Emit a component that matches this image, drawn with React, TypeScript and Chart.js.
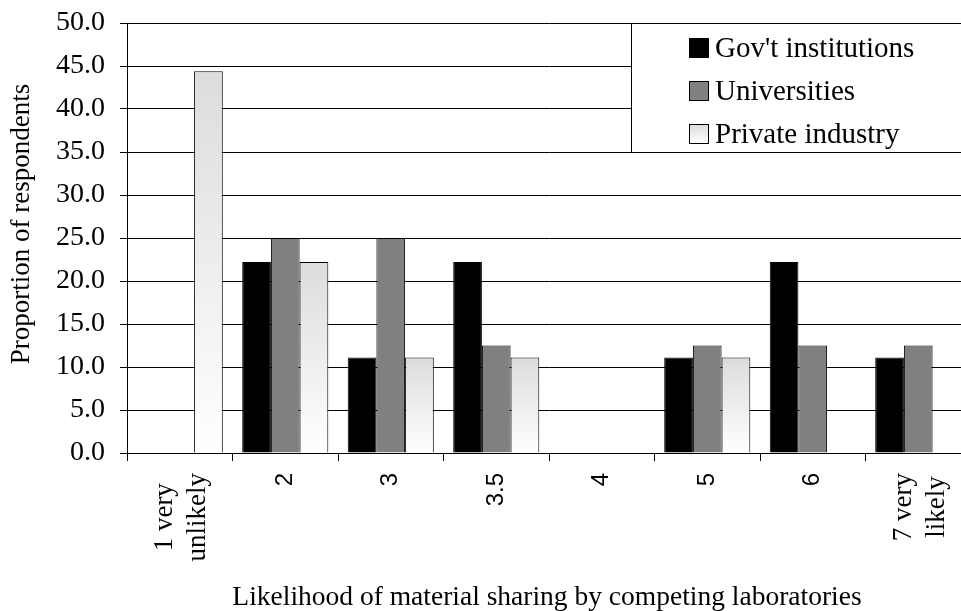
import React, { useEffect, useRef } from "react";
import { Chart, registerables } from "chart.js";

Chart.register(...registerables);

// Likert categories (multi-line labels are arrays of lines)
const categories: string[][] = [
  ["1 very", "unlikely"],
  ["2"],
  ["3"],
  ["3.5"],
  ["4"],
  ["5"],
  ["6"],
  ["7 very", "likely"],
];

// Proportion of respondents (%) per category
const govInstitutions = [0, 22.2, 11.1, 22.2, 0, 11.1, 22.2, 11.1];
const universities = [0, 25.0, 25.0, 12.5, 0, 12.5, 12.5, 12.5];
const privateIndustry = [44.4, 22.2, 11.1, 11.1, 0, 11.1, 0, 0];

const seriesNames = ["Gov't institutions", "Universities", "Private industry"];

const yMin = 0;
const yMax = 50;
const yStep = 5;

const xTitle = "Likelihood of material sharing by competing laboratories";
const yTitle = "Proportion of respondents";

const SERIF = "'Liberation Serif', 'Times New Roman', serif";
const SANS = "'Liberation Sans', Arial, sans-serif";

const GRAD_TOP = "#dcdcdc";
const GRAD_BOTTOM = "#ffffff";

// Vertical light-grey-to-white fill, one gradient per bar
const privateFill = (ctx: any) => {
  const chart = ctx.chart;
  const y = chart.scales && chart.scales.y;
  if (!y || ctx.type !== "data") return "#eeeeee";
  const v = ctx.raw as number;
  const top = y.getPixelForValue(v);
  const bottom = y.getPixelForValue(0);
  if (!(bottom > top)) return "#eeeeee";
  const g = chart.ctx.createLinearGradient(0, top, 0, bottom);
  g.addColorStop(0, GRAD_TOP);
  g.addColorStop(1, GRAD_BOTTOM);
  return g;
};

// Draws rotated category labels, axis titles and the boxed legend
const annotations = {
  id: "annotations",
  afterDraw(chart: any) {
    const { ctx, chartArea } = chart;
    const xs = chart.scales.x;
    const labels = chart.data.labels as string[][];

    ctx.save();
    ctx.fillStyle = "#000";

    // category labels, reading bottom-to-top, starting just below the axis
    const labelStart = chartArea.bottom + 20;
    labels.forEach((lines, i) => {
      const cx = xs.getPixelForValue(i);
      const multi = lines.length > 1;
      ctx.font = multi ? `27px ${SERIF}` : `24px ${SANS}`;
      const widths = lines.map((l) => ctx.measureText(l).width);
      const maxW = Math.max(...widths);
      const lh = 33;
      lines.forEach((line, j) => {
        const off = (j - (lines.length - 1) / 2) * lh;
        ctx.save();
        ctx.translate(cx + off + (multi ? 2 : 0), labelStart + maxW / 2);
        ctx.rotate(-Math.PI / 2);
        ctx.textAlign = "center";
        ctx.textBaseline = "middle";
        ctx.fillText(line, 0, 0);
        ctx.restore();
      });
    });

    // x-axis title
    ctx.font = `27.5px ${SERIF}`;
    ctx.textAlign = "center";
    ctx.textBaseline = "alphabetic";
    ctx.fillText(xTitle, 547, 605);

    // y-axis title
    ctx.save();
    ctx.font = `27px ${SERIF}`;
    ctx.translate(22, 224);
    ctx.rotate(-Math.PI / 2);
    ctx.textAlign = "center";
    ctx.textBaseline = "middle";
    ctx.fillText(yTitle, 0, 0);
    ctx.restore();

    // legend box
    const bx = 631.5;
    const by = chartArea.top + 0.5;
    ctx.fillStyle = "#fff";
    ctx.fillRect(bx, by, 400, 129);
    ctx.strokeStyle = "#000";
    ctx.lineWidth = 1;
    ctx.strokeRect(bx, by, 400, 129);

    ctx.font = `29px ${SERIF}`;
    ctx.textAlign = "left";
    ctx.textBaseline = "alphabetic";
    chart.data.datasets.forEach((ds: any, i: number) => {
      const base = chartArea.top + 34 + i * 43;
      const sx = 689.5;
      const sy = base - 19 + 0.5;
      if (i === 2) {
        const g = ctx.createLinearGradient(0, sy, 0, sy + 19);
        g.addColorStop(0, GRAD_TOP);
        g.addColorStop(1, GRAD_BOTTOM);
        ctx.fillStyle = g;
      } else {
        ctx.fillStyle = ds.backgroundColor;
      }
      ctx.fillRect(sx, sy, 19, 19);
      ctx.strokeStyle = "#000";
      ctx.strokeRect(sx, sy, 19, 19);
      ctx.fillStyle = "#000";
      ctx.fillText(ds.label, 715, base);
    });

    ctx.restore();
  },
};

export default function App() {
  const ref = useRef<HTMLCanvasElement>(null);

  useEffect(() => {
    if (!ref.current) return;
    const barCommon = {
      borderColor: "#000",
      borderWidth: 1,
      categoryPercentage: 0.816,
      barPercentage: 1.0,
    };
    const chart = new Chart(ref.current, {
      type: "bar",
      data: {
        labels: categories,
        datasets: [
          { label: seriesNames[0], data: govInstitutions, backgroundColor: "#000000", ...barCommon },
          { label: seriesNames[1], data: universities, backgroundColor: "#808080", ...barCommon },
          { label: seriesNames[2], data: privateIndustry, backgroundColor: privateFill, ...barCommon },
        ],
      },
      options: {
        animation: false,
        responsive: false,
        devicePixelRatio: 1,
        layout: { padding: { left: 0, top: 23, right: 29, bottom: 0 } },
        plugins: {
          legend: { display: false },
          tooltip: { enabled: false },
          title: { display: false },
        },
        scales: {
          x: {
            type: "category",
            offset: true,
            ticks: { display: false },
            grid: {
              offset: true,
              drawOnChartArea: false,
              drawTicks: true,
              tickLength: 8,
              color: "#000",
              lineWidth: 1,
            },
            border: { display: true, color: "#000", width: 1 },
            afterFit: (scale: any) => {
              scale.height = 158;
            },
          },
          y: {
            min: yMin,
            max: yMax,
            ticks: {
              stepSize: yStep,
              padding: 15,
              color: "#000",
              font: { family: SERIF, size: 28 },
              callback: (v: any) => Number(v).toFixed(1),
            },
            grid: {
              color: "#000",
              lineWidth: 1,
              tickLength: 7,
              drawTicks: true,
            },
            border: { display: true, color: "#000", width: 1 },
            afterFit: (scale: any) => {
              scale.width = 127;
              scale.paddingTop = 0;
              scale.paddingBottom = 0;
            },
          },
        },
      },
      plugins: [annotations],
    });
    return () => chart.destroy();
  }, []);

  return (
    <div
      style={{
        position: "fixed",
        left: 0,
        top: 0,
        width: 961,
        height: 611,
        overflow: "hidden",
        background: "#fff",
      }}
    >
      <canvas
        ref={ref}
        width={1000}
        height={611}
        style={{ display: "block", width: 1000, height: 611 }}
      />
    </div>
  );
}
